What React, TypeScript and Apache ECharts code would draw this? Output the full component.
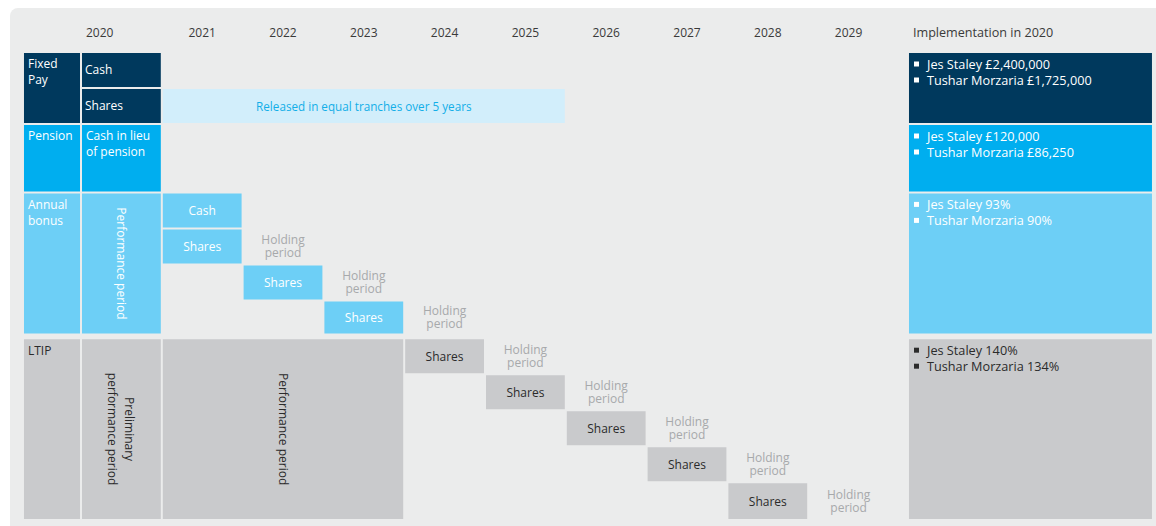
import React, { useEffect, useRef } from "react";
import * as echarts from "echarts";

// ---------- data ----------
const years = ["2020", "2021", "2022", "2023", "2024", "2025", "2026", "2027", "2028", "2029"];
const implementationHeader = "Implementation in 2020";

const rowLabels = ["Fixed\nPay", "Pension", "Annual\nbonus", "LTIP"];
const rowSpans = [[0, 2], [2, 3.9], [3.9, 7.85], [7.95, 13]];
const rowColors = ["#00395d", "#00aeef", "#6dcff6", "#c9cacc"];
const rowTextColors = ["#ffffff", "#ffffff", "#ffffff", "#2b2b2b"];

const fixedSubRows = [[0, 1], [1, 2]];
const fixedSubLabels = ["Cash", "Shares"];
const pensionSubLabel = "Cash in lieu\nof pension";
const bonusPeriodLabel = "Performance period";
const ltipPreliminaryLabel = "Preliminary\nperformance period";

const releasedCols = [1, 6];
const releasedLabel = "Released in equal tranches over 5 years";

const bonusSubRows = [[3.9, 4.9], [4.9, 5.9], [5.9, 6.9], [6.9, 7.85]];
const bonusPayCols = [1, 1, 2, 3];
const bonusPayLabels = ["Cash", "Shares", "Shares", "Shares"];
const bonusHoldingRows = [1, 2, 3];

const ltipPerformanceCols = [1, 4];
const ltipPerformanceLabel = "Performance period";
const ltipSubRows = [[7.95, 8.95], [8.95, 9.95], [9.95, 10.95], [10.95, 11.95], [11.95, 13]];
const ltipShareCols = [4, 5, 6, 7, 8];
const ltipShareLabel = "Shares";
const holdingLabel = "Holding\nperiod";

const labelCol = [-0.718, 0];
const implCol = [10.235, 13.267];
const implementationLines = [
  ["Jes Staley £2,400,000", "Tushar Morzaria £1,725,000"],
  ["Jes Staley £120,000", "Tushar Morzaria £86,250"],
  ["Jes Staley 93%", "Tushar Morzaria 90%"],
  ["Jes Staley 140%", "Tushar Morzaria 134%"],
];

// ---------- styles ----------
const FONT = "'Open Sans', 'Noto Sans', sans-serif";
const BG = "#ebecec";
const RELEASED_BG = "#d2eefb";
const RELEASED_TEXT = "#12aee8";
const HOLDING_TEXT = "#a7a9ab";
const HEADER_TEXT = "#3a3a3a";

type Block = {
  x0: number; x1: number; y0: number; y1: number;
  fill?: string; text?: string | string[]; color?: string;
  mode: "tl" | "ml" | "c" | "rot" | "bul" | "hdrL" | "hdrC" | "none";
  lh?: number; fs?: number;
};

function buildBlocks(): Block[] {
  const b: Block[] = [];
  years.forEach((y, i) => {
    b.push({ x0: i, x1: i + 1, y0: -1.1, y1: 0, text: y, color: HEADER_TEXT, mode: i === 0 ? "hdrL" : "hdrC" });
  });
  b.push({ x0: implCol[0], x1: implCol[1], y0: -1.1, y1: 0, text: implementationHeader, color: HEADER_TEXT, mode: "hdrL", fs: 12.6 });
  rowLabels.forEach((l, i) => {
    b.push({ x0: labelCol[0], x1: labelCol[1], y0: rowSpans[i][0], y1: rowSpans[i][1], fill: rowColors[i], text: l, color: rowTextColors[i], mode: "tl" });
    b.push({ x0: implCol[0], x1: implCol[1], y0: rowSpans[i][0], y1: rowSpans[i][1], fill: rowColors[i], text: implementationLines[i], color: rowTextColors[i], mode: "bul", fs: 12.7 });
  });
  fixedSubRows.forEach((r, i) => {
    b.push({ x0: 0, x1: 1, y0: r[0], y1: r[1], fill: rowColors[0], text: fixedSubLabels[i], color: "#ffffff", mode: "ml" });
  });
  b.push({ x0: releasedCols[0], x1: releasedCols[1], y0: fixedSubRows[1][0], y1: fixedSubRows[1][1], fill: RELEASED_BG, text: releasedLabel, color: RELEASED_TEXT, mode: "c", fs: 11.7 });
  b.push({ x0: 0, x1: 1, y0: rowSpans[1][0], y1: rowSpans[1][1], fill: rowColors[1], text: pensionSubLabel, color: "#ffffff", mode: "tl" });
  b.push({ x0: 0, x1: 1, y0: rowSpans[2][0], y1: rowSpans[2][1], fill: rowColors[2], text: bonusPeriodLabel, color: "#ffffff", mode: "rot" });
  bonusSubRows.forEach((r, i) => {
    b.push({ x0: bonusPayCols[i], x1: bonusPayCols[i] + 1, y0: r[0], y1: r[1], fill: rowColors[2], text: bonusPayLabels[i], color: "#ffffff", mode: "c" });
  });
  bonusHoldingRows.forEach((ri) => {
    const c = bonusPayCols[ri] + 1;
    b.push({ x0: c, x1: c + 1, y0: bonusSubRows[ri][0], y1: bonusSubRows[ri][1], text: holdingLabel, color: HOLDING_TEXT, mode: "c", lh: 13 });
  });
  b.push({ x0: 0, x1: 1, y0: rowSpans[3][0], y1: rowSpans[3][1], fill: rowColors[3], text: ltipPreliminaryLabel, color: rowTextColors[3], mode: "rot" });
  b.push({ x0: ltipPerformanceCols[0], x1: ltipPerformanceCols[1], y0: rowSpans[3][0], y1: rowSpans[3][1], fill: rowColors[3], text: ltipPerformanceLabel, color: rowTextColors[3], mode: "rot" });
  ltipSubRows.forEach((r, i) => {
    const c = ltipShareCols[i];
    b.push({ x0: c, x1: c + 1, y0: r[0], y1: r[1], fill: rowColors[3], text: ltipShareLabel, color: rowTextColors[3], mode: "c" });
    b.push({ x0: c + 1, x1: c + 2, y0: r[0], y1: r[1], text: holdingLabel, color: HOLDING_TEXT, mode: "c", lh: 13 });
  });
  return b;
}

export default function App() {
  const ref = useRef<HTMLDivElement>(null);
  useEffect(() => {
    if (!ref.current) return;
    const chart = echarts.init(ref.current, null, { renderer: "svg" });
    const blocks = buildBlocks();
    const data = blocks.map((b, i) => [b.x0, b.y0, b.x1, b.y1, i]);

    const txt = (s: any, extra: any = {}) => ({
      type: "text",
      silent: true,
      ...extra,
      style: { fontFamily: FONT, fontSize: 12, ...s },
    });

    const renderItem = (params: any, api: any) => {
      const b = blocks[api.value(4)];
      const p0 = api.coord([api.value(0), api.value(1)]);
      const p1 = api.coord([api.value(2), api.value(3)]);
      const x = p0[0] + 1, y = p0[1] + 1;
      const w = p1[0] - p0[0] - 2, h = p1[1] - p0[1] - 2;
      const cx = x + w / 2, cy = y + h / 2;
      const fs = b.fs || 12;
      const children: any[] = [];
      if (b.fill) {
        children.push({ type: "rect", shape: { x, y, width: w, height: h }, style: { fill: b.fill } });
      }
      const lh = b.lh || 16;
      if (b.mode === "tl") {
        children.push(txt({ text: b.text, x: x + 4, y: y + 3, fill: b.color, align: "left", verticalAlign: "top", lineHeight: lh, fontSize: fs }));
      } else if (b.mode === "ml") {
        children.push(txt({ text: b.text, x: x + 3, y: cy, fill: b.color, align: "left", verticalAlign: "middle", lineHeight: lh, fontSize: fs }));
      } else if (b.mode === "c") {
        children.push(txt({ text: b.text, x: cx, y: cy, fill: b.color, align: "center", verticalAlign: "middle", lineHeight: lh, fontSize: fs }));
      } else if (b.mode === "rot") {
        children.push(txt({ text: b.text, x: 0, y: 0, fill: b.color, align: "center", verticalAlign: "middle", lineHeight: 17, fontSize: fs }, { x: cx, y: cy, rotation: -Math.PI / 2 }));
      } else if (b.mode === "hdrL") {
        children.push(txt({ text: b.text, x: p0[0] + 5, y: (p0[1] + p1[1]) / 2, fill: b.color, align: "left", verticalAlign: "middle", fontSize: fs }));
      } else if (b.mode === "hdrC") {
        children.push(txt({ text: b.text, x: (p0[0] + p1[0]) / 2, y: (p0[1] + p1[1]) / 2, fill: b.color, align: "center", verticalAlign: "middle", fontSize: fs }));
      } else if (b.mode === "bul") {
        (b.text as string[]).forEach((line, i) => {
          const ly = y + 11 + 16 * i;
          children.push({ type: "rect", shape: { x: x + 5, y: ly - 2.5, width: 5, height: 5 }, style: { fill: b.color } });
          children.push(txt({ text: line, x: x + 18, y: ly, fill: b.color, align: "left", verticalAlign: "middle", fontSize: fs }));
        });
      }
      return { type: "group", children };
    };

    chart.setOption({
      animation: false,
      graphic: [
        { type: "rect", z: -10, silent: true, shape: { x: 10, y: 8, width: 1160, height: 530, r: [8, 0, 0, 0] }, style: { fill: BG } },
      ],
      grid: { left: 0, right: 0, top: 0, bottom: 0 },
      xAxis: { type: "value", min: -1.0025, max: 13.3045, show: false },
      yAxis: { type: "value", inverse: true, min: -1.4444, max: 13.1667, show: false },
      series: [
        {
          type: "custom",
          renderItem,
          data,
          clip: false,
          silent: true,
        },
      ],
    });
    return () => chart.dispose();
  }, []);
  return (
    <div
      ref={ref}
      style={{ position: "fixed", left: 0, top: 0, width: 1156, height: 526, background: "#ffffff" }}
    />
  );
}
